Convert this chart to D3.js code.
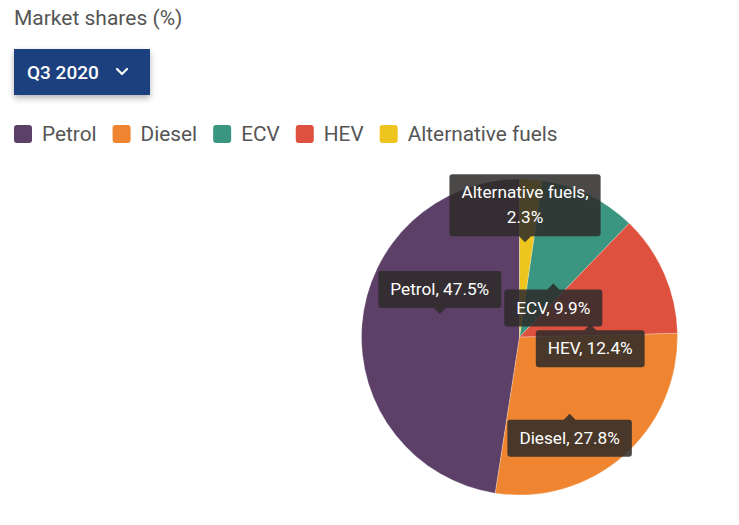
<!DOCTYPE html>
<html>
<head>
<script src="https://d3js.org/d3.v7.min.js"></script>
<title>Market shares</title>
<style>
body {margin:0; background:#fff;}
text {font-family: Roboto, "Noto Sans", sans-serif;}
</style>
</head>
<body>
<div id="myDiv"></div>
<script>
// data
var categories = ["Petrol", "Diesel", "ECV", "HEV", "Alternative fuels"];
var shares = [47.5, 27.8, 9.9, 12.4, 2.3];
var colors = ["#5c4068", "#ef8530", "#3a9680", "#de513f", "#eec41f"];
// order of slices clockwise from 12 o'clock
var sliceOrder = ["Alternative fuels", "ECV", "HEV", "Diesel", "Petrol"];
var period = "Q3 2020";

// tooltip placement tweaks (angle shift in degrees, radius fraction, arrow side)
var labelLayout = {
	"Petrol": {shift: 11.6, k: 0.525, dir: "down"},
	"Diesel": {shift: 8.1, k: 0.58, dir: "up"},
	"ECV": {shift: 6.2, k: 0.40, dir: "up"},
	"HEV": {shift: 13.4, k: 0.455, dir: "up"},
	"Alternative fuels": {shift: -0.8, k: 0.60, dir: "down"}
};

var data = categories.map(function(c, i) {
	return {name: c, value: shares[i], color: colors[i]};
});

var svg = d3.select("#myDiv").append("svg")
	.attr("width", 739)
	.attr("height", 525);

var defs = svg.append("defs");
var f = defs.append("filter").attr("id", "shadow")
	.attr("x", "-20%").attr("y", "-20%").attr("width", "140%").attr("height", "160%");
f.append("feDropShadow").attr("dx", 0).attr("dy", 3).attr("stdDeviation", 3)
	.attr("flood-color", "#000").attr("flood-opacity", 0.3);

// title
svg.append("text")
	.attr("x", 14).attr("y", 25)
	.attr("font-size", 21)
	.attr("fill", "#555")
	.text("Market shares (%)");

// dropdown
var dd = svg.append("g").attr("transform", "translate(14,49)");
dd.append("rect")
	.attr("width", 136).attr("height", 46)
	.attr("fill", "#1a417d")
	.attr("filter", "url(#shadow)");
dd.append("text")
	.attr("x", 13).attr("y", 30)
	.attr("font-size", 19).attr("font-weight", 500)
	.attr("fill", "#fff")
	.text(period);
dd.append("path")
	.attr("d", "M103,20 L108,25 L113,20")
	.attr("fill", "none").attr("stroke", "#fff").attr("stroke-width", 2.2)
	.attr("stroke-linecap", "round").attr("stroke-linejoin", "round");

// legend
var legend = svg.append("g").attr("transform", "translate(14,125)");
var lx = 0;
data.forEach(function(d) {
	var item = legend.append("g").attr("transform", "translate(" + lx + ",0)");
	item.append("rect")
		.attr("width", 18).attr("height", 18).attr("rx", 3)
		.attr("fill", d.color);
	var t = item.append("text")
		.attr("x", 28).attr("y", 16)
		.attr("font-size", 20.8)
		.attr("fill", "#555")
		.text(d.name);
	lx += 28 + t.node().getComputedTextLength() + 16;
});

// pie
var cx = 519.5, cy = 337, radius = 158;

var pie = d3.pie()
	.value(function(d) { return d.value; })
	.sort(function(a, b) { return sliceOrder.indexOf(a.name) - sliceOrder.indexOf(b.name); });

var arc = d3.arc().innerRadius(0).outerRadius(radius);

var arcs = pie(data);

var pieG = svg.append("g").attr("transform", "translate(" + cx + "," + cy + ")");
pieG.selectAll("path").data(arcs).enter()
	.append("path")
	.attr("d", arc)
	.attr("fill", function(d) { return d.data.color; })
	.attr("stroke", "#fff")
	.attr("stroke-width", 0.4)
	.attr("stroke-opacity", 0.6);

// tooltip-style labels
var drawOrder = ["Petrol", "Diesel", "ECV", "HEV", "Alternative fuels"];
var tips = pieG.append("g");
drawOrder.forEach(function(name) {
	var a = arcs.find(function(d) { return d.data.name == name; });
	var L = labelLayout[name];
	var ang = (a.startAngle + a.endAngle) / 2 + L.shift * Math.PI / 180;
	var ax = Math.sin(ang) * radius * L.k;
	var ay = -Math.cos(ang) * radius * L.k;

	var lines = name == "Alternative fuels"
		? [name + ",", a.data.value.toFixed(1) + "%"]
		: [name + ", " + a.data.value.toFixed(1) + "%"];

	var g = tips.append("g");
	var bg = g.append("path").attr("fill", "rgba(45,43,42,0.86)");
	var txt = g.append("text")
		.attr("font-size", 17.2)
		.attr("fill", "#fff")
		.attr("text-anchor", "middle");
	lines.forEach(function(l, i) {
		txt.append("tspan").attr("x", ax).attr("dy", i == 0 ? 0 : 25).text(l);
	});

	var w = d3.max(txt.selectAll("tspan").nodes(), function(n) { return n.getComputedTextLength(); }) + 24;
	var h = 12 + lines.length * 25;
	var arrow = 6;
	var top = L.dir == "down" ? ay - arrow - h : ay + arrow;
	txt.select("tspan").attr("y", top + 24);

	var x0 = ax - w / 2, x1 = ax + w / 2, y0 = top, y1 = top + h, r = 3;
	var p = d3.path();
	p.moveTo(x0 + r, y0);
	if (L.dir == "up") { p.lineTo(ax - arrow, y0); p.lineTo(ax, y0 - arrow); p.lineTo(ax + arrow, y0); }
	p.lineTo(x1 - r, y0);
	p.arcTo(x1, y0, x1, y0 + r, r);
	p.lineTo(x1, y1 - r);
	p.arcTo(x1, y1, x1 - r, y1, r);
	if (L.dir == "down") { p.lineTo(ax + arrow, y1); p.lineTo(ax, y1 + arrow); p.lineTo(ax - arrow, y1); }
	p.lineTo(x0 + r, y1);
	p.arcTo(x0, y1, x0, y1 - r, r);
	p.lineTo(x0, y0 + r);
	p.arcTo(x0, y0, x0 + r, y0, r);
	p.closePath();
	bg.attr("d", p.toString());
});
</script>
</body>
</html>
